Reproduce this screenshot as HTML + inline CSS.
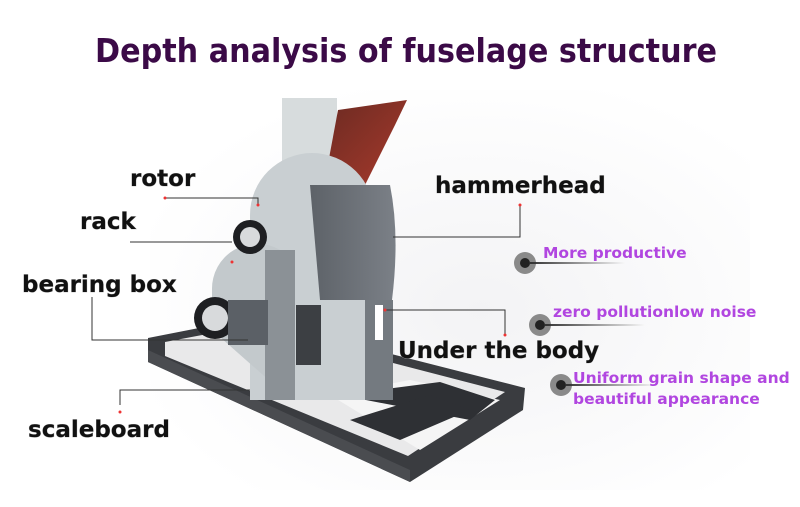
<!DOCTYPE html>
<html><head><meta charset="utf-8"><style>
html,body{margin:0;padding:0;background:#fff;}
svg{display:block}
.t{font-family:"DejaVu Sans","Liberation Sans",sans-serif;font-weight:bold;}
</style></head><body>
<svg width="800" height="507" viewBox="0 0 800 507" xmlns="http://www.w3.org/2000/svg">
<defs>
<radialGradient id="bg" cx="0.55" cy="0.55" r="0.6"><stop offset="0" stop-color="#f3f3f5"/><stop offset="1" stop-color="#ffffff"/></radialGradient>
<linearGradient id="ln" x1="0" x2="1"><stop offset="0" stop-color="#333"/><stop offset="1" stop-color="#333" stop-opacity="0"/></linearGradient>
<linearGradient id="red" x1="0" y1="0" x2="1" y2="1"><stop offset="0" stop-color="#6b2a22"/><stop offset="1" stop-color="#a83a2c"/></linearGradient>
<linearGradient id="drum" x1="0" x2="1"><stop offset="0" stop-color="#5d6268"/><stop offset="1" stop-color="#7b8087"/></linearGradient>
</defs>
<rect width="800" height="507" fill="#fff"/>
<rect x="150" y="90" width="600" height="400" fill="url(#bg)"/>
<text x="95" y="62" textLength="622" lengthAdjust="spacingAndGlyphs" class="t" font-size="33" fill="#3b0a47">Depth analysis of fuselage structure</text>

<!-- frame -->
<polygon points="148,338 250,318 525,388 523,410 410,482 148,362" fill="#3a3c40"/>
<polygon points="165,342 250,326 505,392 408,456 165,356" fill="#e9e9ea"/>
<polygon points="330,395 410,380 500,400 420,450" fill="#f5f5f5"/>
<polygon points="340,395 440,382 495,400 470,420" fill="#2e3034"/>
<polygon points="350,420 430,395 470,410 400,440" fill="#2e3034"/>
<polygon points="148,350 410,470 410,482 148,362" fill="#4a4c50"/>
<!-- housing -->
<rect x="282" y="98" width="55" height="90" fill="#d7dcdd"/>
<polygon points="338,110 407,100 395,125 365,185 325,180" fill="url(#red)"/>
<path d="M250,400 L250,215 A62,62 0 0 1 374,215 L374,400 Z" fill="#c9cfd2"/>
<path d="M212,330 L212,290 A45,45 0 0 1 280,250 L280,390 Z" fill="#c3c9cc"/>
<path d="M310,185 L390,185 Q400,235 392,300 L320,300 Z" fill="url(#drum)"/>
<rect x="365" y="300" width="28" height="100" fill="#747a80"/>
<rect x="375" y="305" width="8" height="35" fill="#fff"/>
<rect x="265" y="250" width="30" height="150" fill="#8b9196"/>
<rect x="296" y="305" width="25" height="60" fill="#3c3f43"/>
<!-- wheels -->
<circle cx="250" cy="237" r="17" fill="#1e1f22"/><circle cx="250" cy="237" r="10" fill="#d8dadc"/>
<circle cx="215" cy="318" r="21" fill="#1e1f22"/><circle cx="215" cy="318" r="13" fill="#d8dadc"/>
<rect x="228" y="300" width="40" height="45" fill="#5b6066"/>

<!-- leader lines -->
<g stroke="#333" stroke-width="1" fill="none">
<polyline points="165,198 258,198 258,205"/>
<polyline points="130,242 232,242"/>
<polyline points="92,297 92,340 248,340"/>
<polyline points="120,405 120,390 250,390"/>
<polyline points="520,205 520,237 393,237"/>
<polyline points="385,310 505,310 505,335"/>
</g>
<g fill="#e33">
<circle cx="165" cy="198" r="1.5"/><circle cx="258" cy="205" r="1.5"/><circle cx="232" cy="262" r="1.5"/>
<circle cx="520" cy="205" r="1.5"/><circle cx="505" cy="335" r="1.5"/><circle cx="120" cy="412" r="1.5"/><circle cx="385" cy="310" r="1.5"/>
</g>

<g class="t" font-size="23" fill="#111" style="paint-order:stroke" stroke="#aaa" stroke-width="0.6">
<text x="130" y="186">rotor</text>
<text x="80" y="229">rack</text>
<text x="22" y="292">bearing box</text>
<text x="435" y="193">hammerhead</text>
<text x="398" y="358">Under the body</text>
<text x="28" y="437">scaleboard</text>
</g>

<!-- right features -->
<g>
<circle cx="525" cy="263" r="11" fill="#8a8a8a"/><circle cx="525" cy="263" r="5" fill="#222"/>
<rect x="530" y="262" width="95" height="2" fill="url(#ln)"/>
<circle cx="540" cy="325" r="11" fill="#8a8a8a"/><circle cx="540" cy="325" r="5" fill="#222"/>
<rect x="545" y="324" width="100" height="2" fill="url(#ln)"/>
<circle cx="561" cy="385" r="11" fill="#8a8a8a"/><circle cx="561" cy="385" r="5" fill="#222"/>
<rect x="566" y="384" width="90" height="2" fill="url(#ln)"/>
</g>
<g class="t" font-size="15.5" fill="#b146e0">
<text x="543" y="258">More productive</text>
<text x="553" y="317">zero pollutionlow noise</text>
<text x="573" y="383">Uniform grain shape and</text>
<text x="573" y="404">beautiful appearance</text>
</g>
</svg>
</body></html>
